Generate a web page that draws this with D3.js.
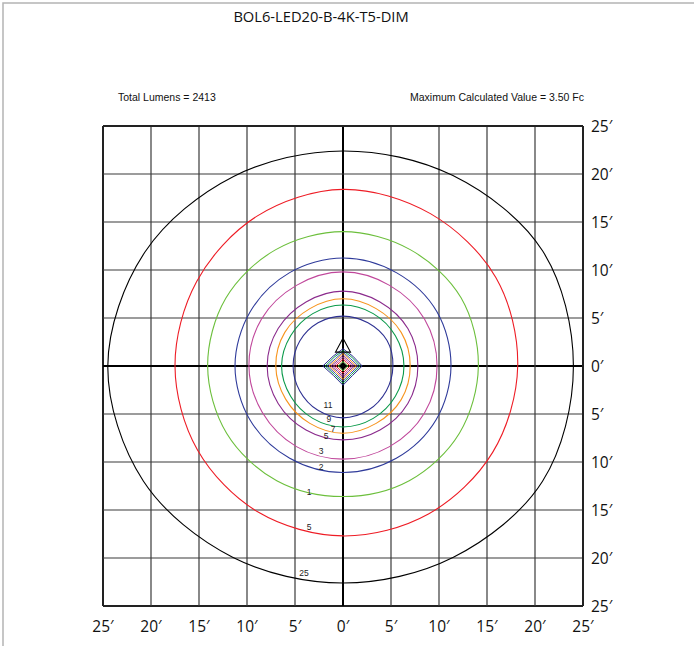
<!DOCTYPE html>
<html><head><meta charset="utf-8">
<script src="https://cdn.jsdelivr.net/npm/d3@7"></script>
<style>body{margin:0;background:#fff}svg{display:block}</style>
</head><body><svg id="c" width="694" height="646"></svg>
<script>
// ---- data ----
const chartTitle = "BOL6-LED20-B-4K-T5-DIM";
const totalLumensText = "Total Lumens = 2413";
const maxValueText = "Maximum Calculated Value = 3.50 Fc";
const tickValues = [-25, -20, -15, -10, -5, 0, 5, 10, 15, 20, 25];
const tickLabels = ["25′","20′","15′","10′","5′","0′","5′","10′","15′","20′","25′"];
// iso-line contours: radius (ft) at each angle (deg, counter-clockwise from east)
const contourAngles = [0, 30, 60, 90, 120, 150, 180, 210, 240, 270, 300, 330];
const contourLabels = ["25", "5", "1", "2", "3", "5", "7", "9", "11"];
const contourRadii = [
  [24.0, 24.0, 22.9, 22.4, 22.8, 23.8, 24.5, 24.0, 23.0, 22.6, 23.0, 24.0],
  [18.2, 18.4, 18.3, 18.4, 18.0, 17.6, 17.5, 17.5, 17.6, 17.7, 17.8, 18.0],
  [14.1, 14.2, 14.0, 14.0, 14.0, 14.1, 14.1, 14.0, 13.8, 13.6, 13.8, 14.0],
  [11.25, 11.3, 11.2, 11.25, 11.2, 11.2, 11.25, 11.2, 11.1, 11.1, 11.1, 11.2],
  [9.8, 9.8, 9.7, 9.8, 9.7, 9.8, 9.8, 9.7, 9.7, 9.7, 9.7, 9.8],
  [7.8, 7.8, 7.7, 7.8, 7.7, 7.8, 7.9, 7.8, 7.7, 7.7, 7.7, 7.8],
  [7.0, 7.0, 6.9, 7.0, 6.9, 7.0, 7.0, 6.9, 6.9, 7.0, 6.9, 7.0],
  [6.35, 6.3, 6.3, 6.35, 6.3, 6.3, 6.4, 6.3, 6.3, 6.35, 6.3, 6.3],
  [5.2, 5.3, 5.2, 5.2, 5.2, 5.2, 5.2, 5.2, 5.3, 5.4, 5.3, 5.2]
];
const contourLabelAt = [[-4.06, -21.56], [-3.54, -16.77], [-3.54, -13.1], [-2.29, -10.5],
  [-2.29, -8.85], [-1.77, -7.29], [-1.04, -6.56], [-1.46, -5.52], [-1.56, -4.06]];
// small high-value contours near the pole
const innerAngles = [0, 45, 90, 135, 180, 225, 270, 315];
const innerRadii = [
  [2.0, 1.45, 1.8, 1.45, 2.1, 1.4, 2.0, 1.4],
  [1.8, 1.3, 1.6, 1.3, 1.85, 1.25, 1.8, 1.25],
  [1.6, 1.1, 1.45, 1.1, 1.65, 1.1, 1.6, 1.1],
  [1.4, 0.95, 1.3, 0.95, 1.45, 0.95, 1.4, 0.95],
  [1.2, 0.8, 1.1, 0.8, 1.25, 0.8, 1.2, 0.8],
  [1.0, 0.65, 0.9, 0.65, 1.0, 0.65, 1.0, 0.65],
  [0.75, 0.5, 0.7, 0.5, 0.75, 0.5, 0.75, 0.5],
  [0.5, 0.35, 0.45, 0.35, 0.5, 0.35, 0.5, 0.35]
];
const triangle = [[0, 2.9], [0.78, 1.45], [-0.78, 1.45]];

// ---- styles ----
const contourColors = ["#000000", "#ee1c25", "#6cbf3c", "#2e3a9a", "#c0479b", "#8a2a8c", "#f7941d", "#0a9a4a", "#2e3192"];
const innerColors = ["#2e3192", "#0a9a4a", "#3c4fb0", "#f7941d", "#8a2a8c", "#c0479b", "#ed1c24", "#6cbf3c"];

const svg = d3.select("#c");
const x = d3.scaleLinear().domain([-25, 25]).range([103, 583]);
const y = d3.scaleLinear().domain([-25, 25]).range([606, 126]);

// page frame
svg.append("path").attr("d", "M3,646V3H694").attr("fill", "none")
  .attr("stroke", "#b4b4b4").attr("stroke-width", 1.5);

// texts
svg.append("text").attr("x", 321).attr("y", 22).attr("text-anchor", "middle")
  .attr("font-family", "Open Sans, sans-serif").attr("font-size", 14.7).attr("fill", "#111").text(chartTitle);
svg.append("text").attr("x", 118).attr("y", 101)
  .attr("font-family", "Liberation Sans, Arial, sans-serif").attr("font-size", 10.5).attr("fill", "#111").text(totalLumensText);
svg.append("text").attr("x", 584).attr("y", 101).attr("text-anchor", "end")
  .attr("font-family", "Liberation Sans, Arial, sans-serif").attr("font-size", 10.5).attr("fill", "#111").text(maxValueText);

// grid
const grid = svg.append("g");
tickValues.forEach(t => {
  const edge = Math.abs(t) === 25, zero = t === 0;
  const sw = edge ? 2 : zero ? 2 : 1.2;
  const col = edge ? "#222" : zero ? "#000" : "#3a3a3a";
  grid.append("line").attr("x1", x(t)).attr("x2", x(t)).attr("y1", y(-25)).attr("y2", y(25))
    .attr("stroke", col).attr("stroke-width", sw);
  grid.append("line").attr("y1", y(t)).attr("y2", y(t)).attr("x1", x(-25)).attr("x2", x(25))
    .attr("stroke", col).attr("stroke-width", sw);
});

// tick labels
const tickFont = "Open Sans, sans-serif";
tickValues.forEach((t, i) => {
  svg.append("text").attr("x", x(t)).attr("y", 632).attr("text-anchor", "middle")
    .attr("font-family", tickFont).attr("font-size", 15.5).attr("fill", "#111").text(tickLabels[i]);
  svg.append("text").attr("x", 591).attr("y", y(-t) + 5.5)
    .attr("font-family", tickFont).attr("font-size", 15.5).attr("fill", "#111").text(tickLabels[i]);
});

// contours
const toPts = (angles, radii) => angles.map((a, k) => {
  const r = radii[k], th = a * Math.PI / 180;
  return [x(r * Math.cos(th)), y(r * Math.sin(th))];
});
const smooth = d3.line().curve(d3.curveCatmullRomClosed.alpha(0.5));
const poly = d3.line().curve(d3.curveLinearClosed);
const cg = svg.append("g").attr("fill", "none");
contourRadii.forEach((radii, i) => {
  cg.append("path").attr("d", smooth(toPts(contourAngles, radii)))
    .attr("stroke", contourColors[i]).attr("stroke-width", 1.1);
});
innerRadii.forEach((radii, i) => {
  cg.append("path").attr("d", poly(toPts(innerAngles, radii)))
    .attr("stroke", innerColors[i]).attr("stroke-width", 1);
});
cg.append("path").attr("d", poly(triangle.map(p => [x(p[0]), y(p[1])])))
  .attr("stroke", "#000").attr("stroke-width", 1.1);
svg.append("circle").attr("cx", x(0)).attr("cy", y(0)).attr("r", 3).attr("fill", "#000");

// contour labels
contourLabels.forEach((lab, i) => {
  svg.append("text").attr("x", x(contourLabelAt[i][0])).attr("y", y(contourLabelAt[i][1]) + 3)
    .attr("text-anchor", "middle").attr("font-family", "Liberation Sans, Arial, sans-serif")
    .attr("font-size", 8.5).attr("fill", "#222").text(lab);
});
</script></body></html>
